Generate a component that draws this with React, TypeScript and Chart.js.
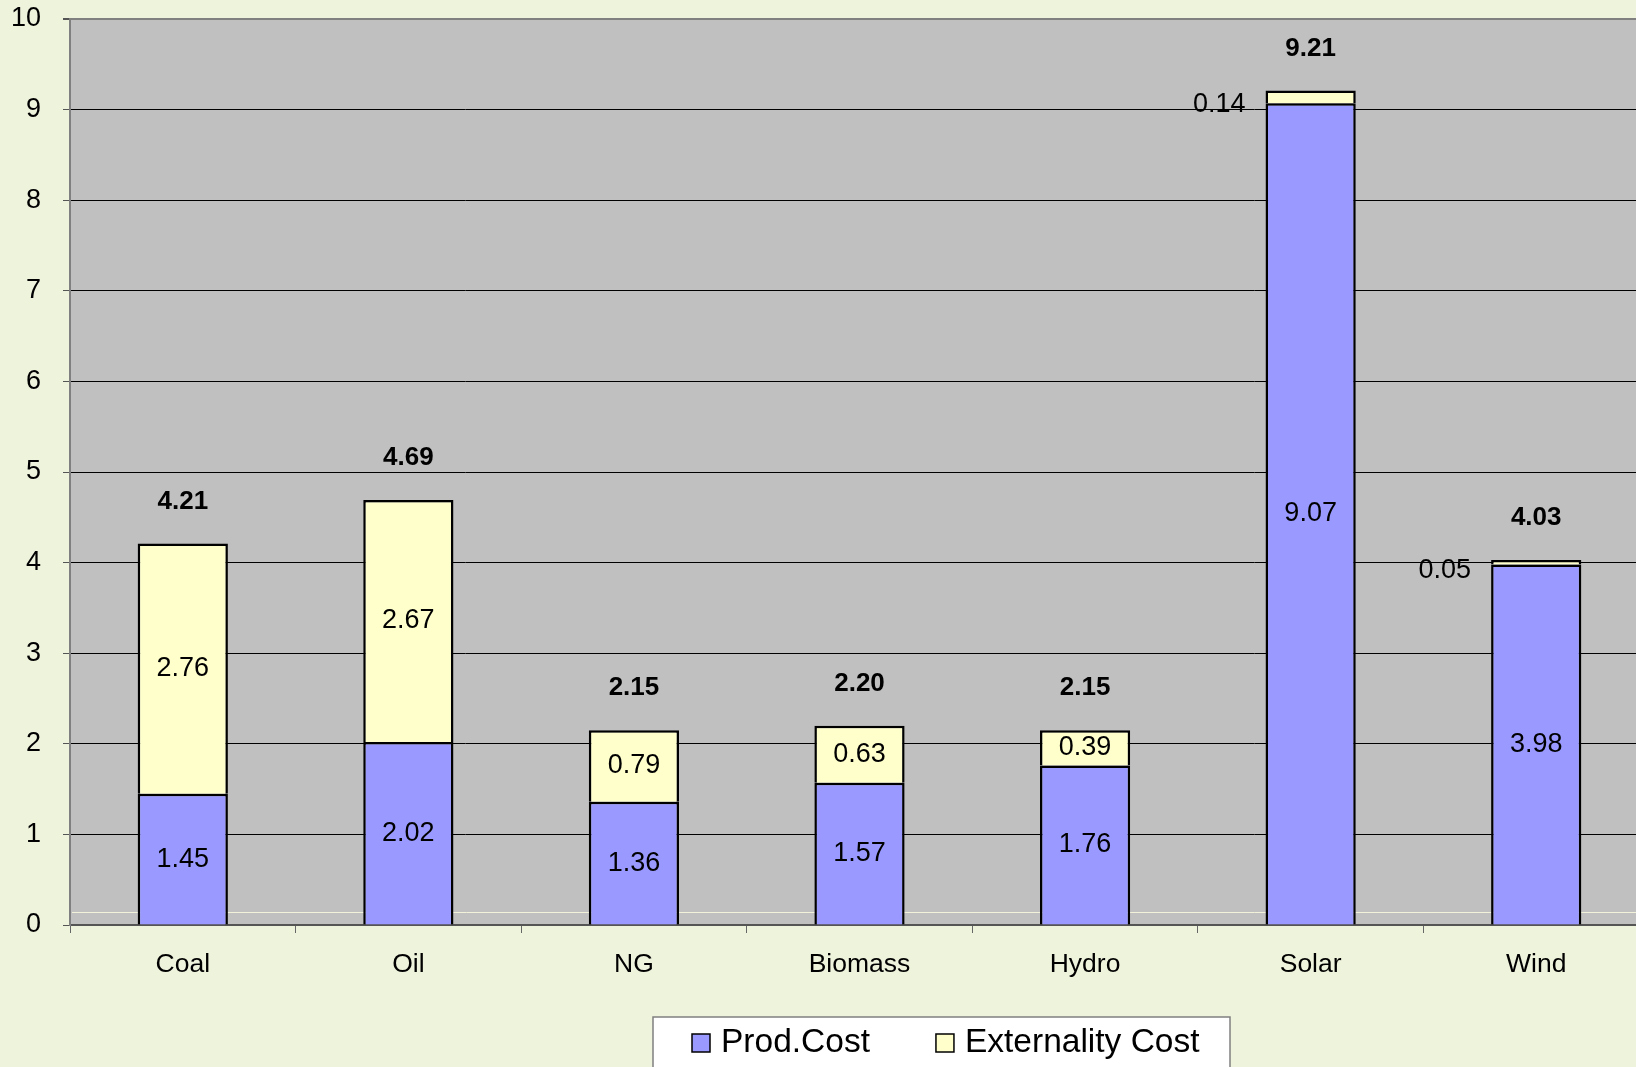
import React, { useEffect, useRef } from "react";
import { Chart, registerables } from "chart.js";

Chart.register(...registerables);

const categories = ["Coal", "Oil", "NG", "Biomass", "Hydro", "Solar", "Wind"];
const prodCost = [1.45, 2.02, 1.36, 1.57, 1.76, 9.07, 3.98];
const externalityCost = [2.76, 2.67, 0.79, 0.63, 0.39, 0.14, 0.05];
const yMin = 0;
const yMax = 10;
const yStep = 1;

const FONT = "'Liberation Sans', Arial, sans-serif";
const PAGE_BG = "#EEF3DC";
const PLOT_BG = "#C0C0C0";

const bgPlugin = {
  id: "bgPlugin",
  beforeDraw(chart: any) {
    const { ctx, chartArea } = chart;
    ctx.save();
    ctx.fillStyle = PAGE_BG;
    ctx.fillRect(0, 0, chart.width, chart.height);
    ctx.fillStyle = PLOT_BG;
    ctx.fillRect(chartArea.left, chartArea.top, chartArea.right - chartArea.left, chartArea.bottom - chartArea.top);
    ctx.restore();
  },
  beforeDatasetsDraw(chart: any) {
    const { ctx, chartArea } = chart;
    const y0 = chart.scales.y.getPixelForValue(0) - 13;
    ctx.save();
    ctx.strokeStyle = "#F2F2DA";
    ctx.lineWidth = 1;
    ctx.beginPath();
    ctx.moveTo(chartArea.left + 2, y0 + 0.5);
    ctx.lineTo(chartArea.right, y0 + 0.5);
    ctx.stroke();
    ctx.restore();
  },
};

const labelPlugin = {
  id: "labelPlugin",
  afterDatasetsDraw(chart: any) {
    const { ctx } = chart;
    ctx.save();
    ctx.fillStyle = "#000";
    ctx.textBaseline = "middle";
    ctx.font = `27px ${FONT}`;
    chart.data.datasets.forEach((ds: any, di: number) => {
      const meta = chart.getDatasetMeta(di);
      meta.data.forEach((bar: any, i: number) => {
        const v = ds.data[i];
        const p = bar.getProps(["x", "y", "base", "width"], true);
        const cy = (p.y + p.base) / 2;
        const txt = v.toFixed(2);
        if (v < 0.2) {
          ctx.textAlign = "right";
          ctx.fillText(txt, p.x - p.width / 2 - 20, cy + 8);
        } else {
          ctx.textAlign = "center";
          ctx.fillText(txt, p.x, cy);
        }
      });
    });
    const last = chart.getDatasetMeta(chart.data.datasets.length - 1);
    ctx.font = `bold 26px ${FONT}`;
    ctx.textAlign = "center";
    last.data.forEach((bar: any, i: number) => {
      const total = chart.data.datasets.reduce((s: number, ds: any) => s + ds.data[i], 0);
      const p = bar.getProps(["x", "y"], true);
      ctx.fillText(total.toFixed(2), p.x, p.y - 42);
    });
    ctx.restore();
  },
};

const legendPlugin = {
  id: "customLegend",
  afterDraw(chart: any) {
    const { ctx } = chart;
    ctx.save();
    const boxL = 653, boxT = 1017, boxR = 1230, boxB = 1090;
    ctx.fillStyle = "#FFFFFF";
    ctx.fillRect(boxL, boxT, boxR - boxL, boxB - boxT);
    ctx.strokeStyle = "#808080";
    ctx.lineWidth = 1.5;
    ctx.strokeRect(boxL, boxT, boxR - boxL, boxB - boxT);
    ctx.font = `33.5px ${FONT}`;
    ctx.textBaseline = "middle";
    ctx.textAlign = "left";
    let x = 692;
    const cy = 1043;
    chart.data.datasets.forEach((ds: any) => {
      ctx.fillStyle = ds.backgroundColor;
      ctx.fillRect(x, cy - 9, 18, 18);
      ctx.strokeStyle = "#000";
      ctx.lineWidth = 1.5;
      ctx.strokeRect(x, cy - 9, 18, 18);
      ctx.fillStyle = "#000";
      ctx.fillText(ds.label, x + 29, cy);
      x = x + 29 + ctx.measureText(ds.label).width + 66;
    });
    ctx.restore();
  },
};

export default function App() {
  const ref = useRef<HTMLCanvasElement | null>(null);
  useEffect(() => {
    if (!ref.current) return;
    const chart = new Chart(ref.current, {
      type: "bar",
      data: {
        labels: categories,
        datasets: [
          {
            label: "Prod.Cost",
            data: prodCost,
            backgroundColor: "#9999FF",
            borderColor: "#000",
            borderWidth: 2.5,
            borderSkipped: "bottom",
            categoryPercentage: 1,
            barPercentage: 0.4,
          },
          {
            label: "Externality Cost",
            data: externalityCost,
            backgroundColor: "#FFFFCC",
            borderColor: "#000",
            borderWidth: 2.5,
            borderSkipped: "bottom",
            categoryPercentage: 1,
            barPercentage: 0.4,
          },
        ],
      },
      options: {
        responsive: false,
        animation: false,
        devicePixelRatio: 1,
        layout: { padding: { top: 19, right: 1, left: 0, bottom: 0 } },
        plugins: {
          legend: { display: false },
          tooltip: { enabled: false },
          title: { display: false },
        },
        scales: {
          x: {
            stacked: true,
            grid: {
              drawOnChartArea: false,
              drawTicks: true,
              tickLength: 8,
              color: "#666",
              offset: true,
            },
            border: { display: true, color: "#555", width: 2 },
            ticks: { color: "#000", font: { family: FONT, size: 26.5 }, padding: 16 },
            afterFit(scale: any) {
              scale.height = 142;
              scale.paddingLeft = 0;
              scale.paddingRight = 0;
            },
          },
          y: {
            stacked: true,
            min: yMin,
            max: yMax,
            grid: {
              color: (c: any) => (c.tick && c.tick.value === yMax ? "#808080" : "#000"),
              lineWidth: (c: any) => (c.tick && c.tick.value === yMax ? 2 : 1),
              tickLength: 7,
              tickColor: "#555",
            },
            border: { display: true, color: "#808080", width: 2 },
            ticks: {
              stepSize: yStep,
              color: "#000",
              font: { family: FONT, size: 27 },
              padding: 22,
            },
            afterFit(scale: any) {
              scale.width = 70;
              scale.paddingTop = 0;
              scale.paddingBottom = 0;
            },
          },
        },
      },
      plugins: [bgPlugin, labelPlugin, legendPlugin],
    });
    return () => chart.destroy();
  }, []);
  return (
    <div
      style={{
        position: "fixed",
        left: 0,
        top: 0,
        width: 1636,
        height: 1067,
        overflow: "hidden",
        background: PAGE_BG,
      }}
    >
      <canvas ref={ref} width={1650} height={1067} style={{ width: 1650, height: 1067, display: "block" }} />
    </div>
  );
}
